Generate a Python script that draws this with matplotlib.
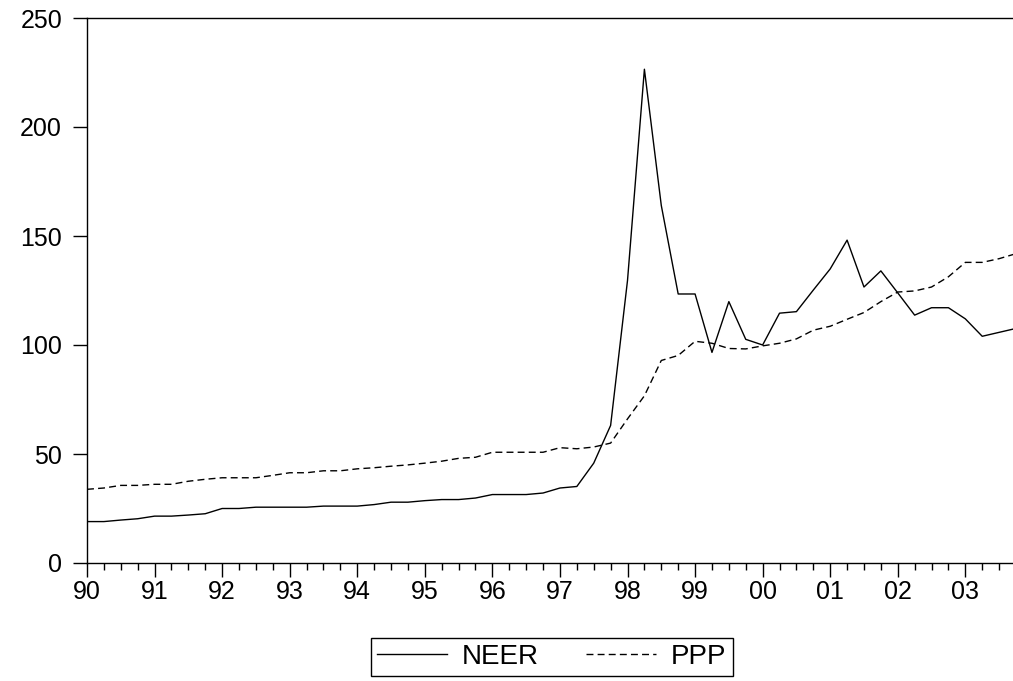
import matplotlib
matplotlib.use("Agg")
import matplotlib.pyplot as plt
from matplotlib.ticker import FixedLocator, MultipleLocator

plt.rcParams['font.family'] = ['Liberation Sans', 'DejaVu Sans']

# quarterly, 1990Q1 - 2003Q4
neer = [19.0, 19.0, 19.7, 20.3, 21.5, 21.5, 22.0, 22.6,
        25.0, 25.0, 25.6, 25.6, 25.6, 25.6, 26.1, 26.1,
        26.1, 26.8, 27.9, 27.9, 28.6, 29.1, 29.1, 29.8,
        31.4, 31.4, 31.4, 32.1, 34.4, 35.1, 45.8, 63.1,
        129.6, 226.5, 164.0, 123.4, 123.4, 96.6, 119.9, 102.6,
        100.0, 114.6, 115.3, 125.2, 134.9, 148.1, 126.6, 134.0,
        123.9, 113.7, 117.1, 117.1, 112.0, 104.0, 105.8, 107.6]
ppp = [33.8, 34.4, 35.6, 35.6, 36.1, 36.1, 37.5, 38.4,
       39.1, 39.1, 39.1, 40.2, 41.4, 41.4, 42.3, 42.3,
       43.2, 43.7, 44.4, 45.0, 45.8, 46.7, 48.0, 48.5,
       50.8, 50.8, 50.8, 50.8, 52.9, 52.4, 53.2, 55.0,
       66.1, 76.7, 92.9, 95.2, 101.7, 100.8, 98.4, 98.2,
       99.6, 100.8, 102.8, 106.8, 108.6, 111.8, 114.9, 119.9,
       124.3, 124.8, 126.6, 131.3, 137.9, 137.9, 139.6, 141.9]
year_labels = ['90', '91', '92', '93', '94', '95', '96', '97',
               '98', '99', '00', '01', '02', '03']

x = list(range(len(neer)))

fig = plt.figure(figsize=(10.13, 6.81), dpi=100)
ax = fig.add_axes([87 / 1013, 118 / 681, 929 / 1013, 545 / 681])

ax.plot(x, neer, color='black', lw=1.0, label='NEER')
ax.plot(x, ppp, color='black', lw=1.0, dashes=(5, 3), label='PPP')

ax.set_xlim(0, 55)
ax.set_ylim(0, 250)
ax.xaxis.set_major_locator(FixedLocator(list(range(0, 56, 4))))
ax.set_xticklabels(year_labels)
ax.xaxis.set_minor_locator(MultipleLocator(1))
ax.set_yticks([0, 50, 100, 150, 200, 250])

ax.spines['right'].set_visible(False)
for s in ['left', 'top', 'bottom']:
    ax.spines[s].set_linewidth(1.0)

ax.tick_params(axis='y', direction='out', length=10, width=1.0,
               labelsize=18, pad=8)
ax.tick_params(axis='x', which='major', direction='out', length=10,
               width=1.0, labelsize=18, pad=2)
ax.tick_params(axis='x', which='minor', direction='out', length=5,
               width=1.0)

leg = fig.legend(loc='center', bbox_to_anchor=(552 / 1013, 1 - 657 / 681),
                 ncol=2, fontsize=20, frameon=True, fancybox=False,
                 framealpha=1, edgecolor='black', handlelength=2.5,
                 handletextpad=0.55, columnspacing=1.7, borderpad=0.22,
                 borderaxespad=0)
leg.get_frame().set_linewidth(1.0)

fig.savefig('out.png', dpi=100)
